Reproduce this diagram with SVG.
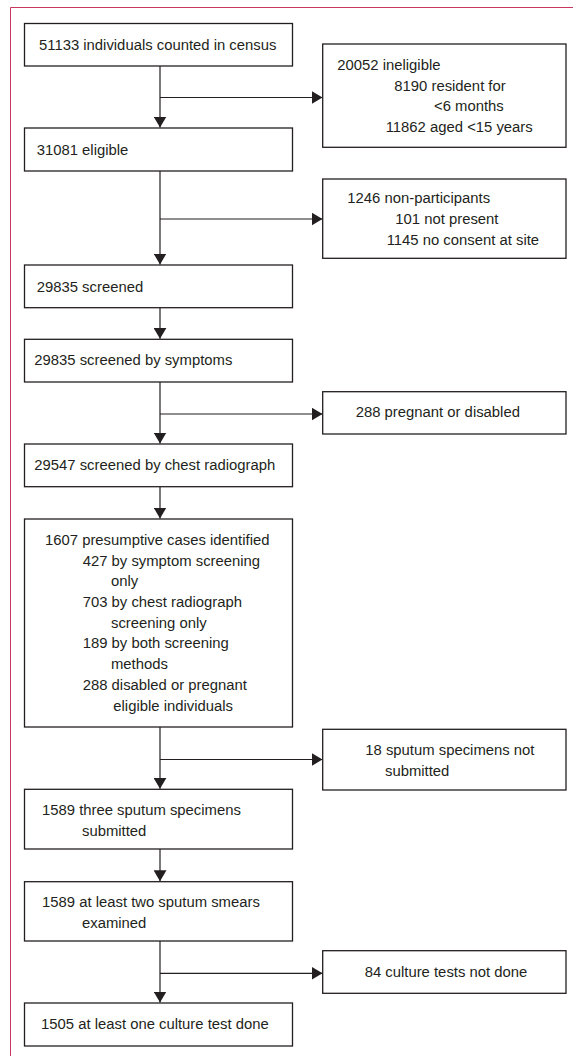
<svg xmlns="http://www.w3.org/2000/svg" width="573" height="1056" viewBox="0 0 573 1056">
<style>
.frame{fill:none;stroke:#c8375f;stroke-width:1}
.box{fill:#fff;stroke:#231f20;stroke-width:1.3}
.ln{fill:none;stroke:#231f20;stroke-width:1.2}
text{font-family:"Liberation Sans",Arial,sans-serif;font-size:14.85px;fill:#231f20}
</style>
<defs>
<marker id="ah" markerUnits="userSpaceOnUse" markerWidth="12" markerHeight="13" refX="11" refY="6.5" orient="auto">
<path d="M0,0 L11,6.5 L0,13 z" fill="#231f20"/>
</marker>
</defs>
<rect width="573" height="1056" fill="#fff"/>
<path class="frame" d="M573,7.5 H10.5 V1056"/>
<g id="connectors">
<path class="ln" d="M160,66 V127.5" marker-end="url(#ah)"/>
<path class="ln" d="M160,97.5 H322.5" marker-end="url(#ah)"/>
<path class="ln" d="M160,171 V264.5" marker-end="url(#ah)"/>
<path class="ln" d="M160,219 H322.5" marker-end="url(#ah)"/>
<path class="ln" d="M160,307.7 V338.8" marker-end="url(#ah)"/>
<path class="ln" d="M160,382 V443.5" marker-end="url(#ah)"/>
<path class="ln" d="M160,414 H322.5" marker-end="url(#ah)"/>
<path class="ln" d="M160,486.7 V518.5" marker-end="url(#ah)"/>
<path class="ln" d="M160,727 V788.8" marker-end="url(#ah)"/>
<path class="ln" d="M160,759.5 H322.5" marker-end="url(#ah)"/>
<path class="ln" d="M160,849 V881.2" marker-end="url(#ah)"/>
<path class="ln" d="M160,941 V1002.5" marker-end="url(#ah)"/>
<path class="ln" d="M160,973.3 H322.5" marker-end="url(#ah)"/>
</g>
<g id="n1"><rect class="box" x="24.5" y="23.5" width="268" height="42.5"/><text x="39" y="50">51133 individuals counted in census</text></g>
<g id="n2"><rect class="box" x="24.5" y="128" width="268" height="43"/><text x="36.7" y="155">31081 eligible</text></g>
<g id="n3"><rect class="box" x="24.5" y="265" width="268" height="42.7"/><text x="36.7" y="291.7">29835 screened</text></g>
<g id="n4"><rect class="box" x="24.5" y="339.3" width="268" height="42.7"/><text x="34.3" y="365">29835 screened by symptoms</text></g>
<g id="n5"><rect class="box" x="24.5" y="444" width="268" height="42.7"/><text x="34.3" y="470">29547 screened by chest radiograph</text></g>
<g id="n6"><rect class="box" x="24.5" y="519" width="268" height="208"/>
<text x="45" y="545">1607 presumptive cases identified</text>
<text x="82.7" y="565.7">427 by symptom screening</text>
<text x="111" y="586">only</text>
<text x="82.7" y="607">703 by chest radiograph</text>
<text x="111" y="627.5">screening only</text>
<text x="82.7" y="648.3">189 by both screening</text>
<text x="111" y="669">methods</text>
<text x="82.7" y="690">288 disabled or pregnant</text>
<text x="113.3" y="710.5">eligible individuals</text>
</g>
<g id="n7"><rect class="box" x="24.5" y="789.3" width="268" height="59.7"/><text x="42" y="815">1589 three sputum specimens</text><text x="82" y="835.5">submitted</text></g>
<g id="n8"><rect class="box" x="24.5" y="881.7" width="268" height="59.3"/><text x="42" y="906.7">1589 at least two sputum smears</text><text x="82" y="927.7">examined</text></g>
<g id="n9"><rect class="box" x="24.5" y="1003" width="268" height="43"/><text x="41" y="1029">1505 at least one culture test done</text></g>
<g id="r1"><rect class="box" x="322.7" y="44" width="243.3" height="103.3"/>
<text x="337.3" y="70">20052 ineligible</text>
<text x="394.3" y="90.5">8190 resident for</text>
<text x="434" y="111">&lt;6 months</text>
<text x="385.7" y="131.7">11862 aged &lt;15 years</text>
</g>
<g id="r2"><rect class="box" x="322.7" y="179" width="243.3" height="79.3"/>
<text x="347.3" y="203.3">1246 non-participants</text>
<text x="395.3" y="224">101 not present</text>
<text x="386.7" y="244.5">1145 no consent at site</text>
</g>
<g id="r3"><rect class="box" x="322.7" y="391.7" width="243.3" height="42.3"/><text x="355.7" y="417.3">288 pregnant or disabled</text></g>
<g id="r4"><rect class="box" x="322.7" y="729.3" width="243.3" height="60.7"/><text x="365.3" y="755">18 sputum specimens not</text><text x="385" y="776">submitted</text></g>
<g id="r5"><rect class="box" x="322.7" y="950.7" width="243.3" height="42.6"/><text x="364.7" y="976.7">84 culture tests not done</text></g>
</svg>
